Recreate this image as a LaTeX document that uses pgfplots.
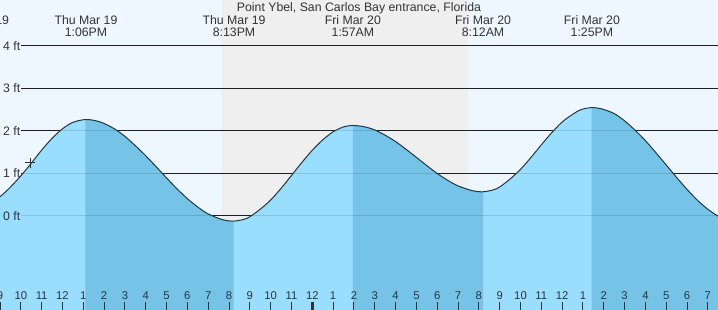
\documentclass[border=0pt]{standalone}
\usepackage{pgfplots}
\pgfplotsset{compat=1.18}
\usepackage{pgfplotstable}
\usepgfplotslibrary{fillbetween}
\usepackage{fontspec}
\setmainfont{Liberation Sans}
\definecolor{dayc}{HTML}{EEF7FF}
\definecolor{nightc}{HTML}{EFEFEF}
\definecolor{lightc}{HTML}{99DDFF}
\definecolor{darkc}{HTML}{75C3E7}
\definecolor{txt}{HTML}{333333}

\pgfplotstableread{
t v
-1.08 0.25
-0.5 0.308
0 0.453
0.5 0.680
1 0.945
1.5 1.240
2 1.550
2.5 1.826
3 2.051
3.5 2.203
4.1 2.27
4.6 2.241
5 2.177
5.5 2.050
6 1.873
6.5 1.655
7 1.417
7.5 1.160
8 0.896
8.5 0.640
9 0.408
9.5 0.210
10 0.048
10.7 -0.089
11.217 -0.12
11.7 -0.081
12 -0.018
12.5 0.160
13 0.376
13.5 0.650
14 0.953
14.5 1.260
15 1.547
15.5 1.790
16 1.981
16.5 2.096
16.95 2.13
17.5 2.100
18 2.024
18.5 1.900
19 1.751
19.5 1.570
20 1.379
20.5 1.185
21 1.000
21.5 0.840
22 0.708
22.7 0.594
23.2 0.57
23.7 0.615
24 0.683
24.5 0.870
25 1.097
25.5 1.375
26 1.674
26.5 1.960
27 2.211
27.5 2.390
27.9 2.502
28.417 2.55
28.9 2.52
29.5 2.410
30 2.238
30.5 2.020
31 1.773
31.5 1.490
32 1.200
32.5 0.905
33 0.626
33.5 0.370
34 0.158
34.5 -0.006
35 -0.114
35.6 -0.16
}\tide

\begin{document}
\begin{tikzpicture}
\begin{axis}[name=ax, scale only axis, width=718pt, height=310pt,
  xmin=0, xmax=34.486, ymin=-2.212, ymax=5.082,
  axis background/.style={fill=dayc},
  axis line style={draw=none},
  axis on top,
  ytick=\empty,
  xtick={0,...,34},
  xticklabels={9,10,11,12,1,2,3,4,5,6,7,8,9,10,11,12,1,2,3,4,5,6,7,8,9,10,11,12,1,2,3,4,5,6,7},
  extra x ticks={15}, extra x tick labels={},
  extra x tick style={major tick style={line width=2.5pt, txt}},
  xtick pos=lower,
  tick align=inside, major tick length=8pt,
  tick style={txt, line width=1pt},
  xticklabel style={anchor=base, yshift=10.5pt, font=\fontsize{11.3}{13}\selectfont, text=txt},
]
\addplot[draw=none, fill=nightc, on layer=axis background] coordinates {(10.66,-3) (10.66,6) (22.48,6) (22.48,-3) (10.66,-3)};
\pgfplotsinvokeforeach{0,...,4}{\addplot[txt!70!black, line width=1pt, on layer=axis background] coordinates {(1.01,#1) (35,#1)};}
\addplot[name path=tide, draw=none, smooth] table {\tide};
\addplot[name path=bot, draw=none] coordinates {(-2,-3) (36,-3)};
\addplot[fill=lightc] fill between[of=tide and bot];
\addplot[fill=darkc] fill between[of=tide and bot, soft clip={domain=4.1:11.217}];
\addplot[fill=darkc] fill between[of=tide and bot, soft clip={domain=16.95:23.2}];
\addplot[fill=darkc] fill between[of=tide and bot, soft clip={domain=28.417:36}];
\pgfplotsinvokeforeach{0,...,4}{\addplot[black, opacity=0.12, line width=1pt] coordinates {(1.01,#1) (35,#1)};}
\addplot[txt, line width=1pt, smooth] table {\tide};
\addplot[only marks, mark=+, mark size=5pt, txt, line width=0.9pt] coordinates {(1.44,1.25)};

\foreach \v in {0,...,4}{
  \edef\tmp{\noexpand\node[anchor=east, inner sep=0, font=\noexpand\fontsize{12.3}{14}\noexpand\selectfont, text=txt] at (axis cs:0.985,\v) {\v\space ft};}\tmp
}
\node[anchor=north, inner sep=0, font=\fontsize{12.3}{14}\selectfont, text=txt] at (axis cs:17.24,5.019) {Point Ybel, San Carlos Bay entrance, Florida};
\node[anchor=north, inner sep=0, align=center, font=\fontsize{12.3}{12}\selectfont, text=txt] at (axis cs:-1.08,4.729) {Thu Mar 19\\7:56AM};
\node[anchor=north, inner sep=0, align=center, font=\fontsize{12.3}{12}\selectfont, text=txt] at (axis cs:4.13,4.729) {Thu Mar 19\\1:06PM};
\node[anchor=north, inner sep=0, align=center, font=\fontsize{12.3}{12}\selectfont, text=txt] at (axis cs:11.24,4.729) {Thu Mar 19\\8:13PM};
\node[anchor=north, inner sep=0, align=center, font=\fontsize{12.3}{12}\selectfont, text=txt] at (axis cs:16.95,4.729) {Fri Mar 20\\1:57AM};
\node[anchor=north, inner sep=0, align=center, font=\fontsize{12.3}{12}\selectfont, text=txt] at (axis cs:23.2,4.729) {Fri Mar 20\\8:12AM};
\node[anchor=north, inner sep=0, align=center, font=\fontsize{12.3}{12}\selectfont, text=txt] at (axis cs:28.43,4.729) {Fri Mar 20\\1:25PM};
\end{axis}
\pgfresetboundingbox
\path[use as bounding box] (ax.south west) rectangle (ax.north east);
\end{tikzpicture}
\end{document}
